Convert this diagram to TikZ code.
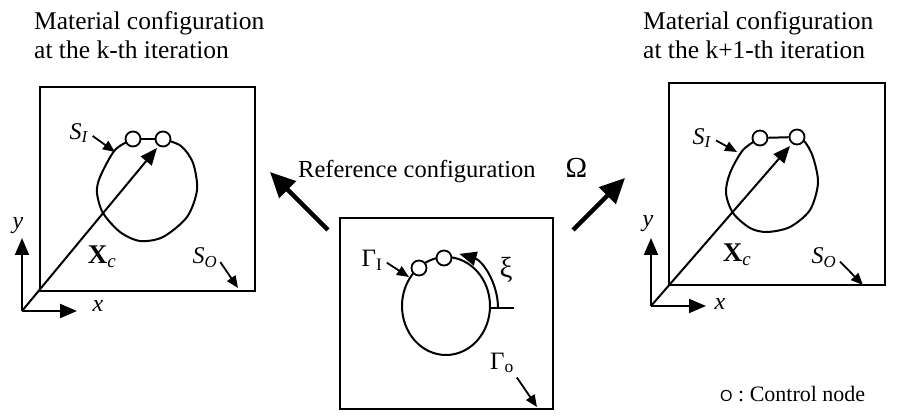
\documentclass[tikz,border=0pt]{standalone}
\usepackage{fontspec}
\setmainfont{Liberation Serif}
\setsansfont{Liberation Sans}
\usetikzlibrary{arrows.meta, positioning}

\begin{document}
\begin{tikzpicture}[x=1pt, y=-1pt]
   \fontsize{22pt}{28pt}\selectfont
    % --- STYLES ---
    \tikzstyle{config} = [rectangle, draw=black, line width=2.4pt, inner sep=0pt]
    \tikzstyle{ctrl} = [circle, draw=black, line width=1.8pt, fill=white, minimum size=15pt, inner sep=0pt]
    \tikzstyle{lbl} = [inner sep=0pt]
    \tikzstyle{title} = [inner sep=0pt, align=left, anchor=base west, font=\fontsize{25.5pt}{29pt}\selectfont]
    \tikzstyle{bound} = [line width=2pt]
    \tikzstyle{pointer} = [-{Triangle[length=12pt,width=10pt]}, line width=1.8pt, shorten <=5pt]
    \tikzstyle{axis} = [-{Triangle[length=17pt,width=14pt]}, line width=2pt]
    \tikzstyle{flow} = [-{Triangle[length=25pt,width=23pt]}, line width=4.5pt]

    \useasboundingbox (0,0) rectangle (898,419);

    % --- TITLES ---
    \node (ktitle) [title] at (34,59) {Material configuration\\at the k-th iteration};
    \node (ntitle) [title] at (643,59) {Material configuration\\at the k+1-th iteration};
    \node (reftext) [lbl, anchor=base west, font=\fontsize{24.5pt}{29pt}\selectfont] at (298,178) {Reference configuration\hspace{30pt}{\fontsize{29pt}{29pt}\selectfont Ω}};
    \node (legend) [lbl, anchor=base west] at (720,402) {{\sffamily\fontsize{16pt}{16pt}\selectfont O} : Control node};

    % --- BOXES ---
    \node (kbox)   [config, minimum width=215pt, minimum height=204pt] at (147.5,189) {};
    \node (refbox) [config, minimum width=213pt, minimum height=191pt] at (446.5,313.5) {};
    \node (nbox)   [config, minimum width=216pt, minimum height=202pt] at (777,184) {};

    % --- k-th iteration ---
    \draw[bound] plot[smooth] coordinates {(163,139) (181,146) (193,163) (197,190) (187,217) (163,237) (140,241) (120,232) (103,213) (97,193) (100,177) (115,150) (133,139)};
    \node (kn1) [ctrl] at (133,139) {};
    \node (kn2) [ctrl] at (163,139) {};
    \draw[bound] (kn1) -- (kn2);
    \coordinate (korig) at (22,311);
    \coordinate (kxaxis) at (77,311);
    \coordinate (kyaxis) at (22,238);
    \coordinate (kxtip) at (157,148);
    \draw[axis] (korig) -- (kxaxis);
    \draw[axis] (korig) -- (kyaxis);
    \draw[axis] (korig) -- (kxtip);
    \node (kx) [lbl, font=\fontsize{24pt}{24pt}\selectfont] at (98,306) {\textit{x}};
    \node (ky) [lbl, font=\fontsize{24pt}{24pt}\selectfont] at (18,226) {\textit{y}};
    \node (kXc) [lbl, font=\fontsize{27pt}{27pt}\selectfont] at (102,257) {\textbf{X}\textsubscript{\textit{c}}};
    \node (kSI) [lbl, font=\fontsize{24pt}{24pt}\selectfont] at (79,133) {\textit{S}\textsubscript{\textit{I}}};
    \node (kSO) [lbl, font=\fontsize{24pt}{24pt}\selectfont] at (205,258) {\textit{S}\textsubscript{\textit{O}}};
    \coordinate (kSIto) at (115,152);
    \coordinate (kSOto) at (238,288);
    \draw[pointer] (kSI.east) -- (kSIto);
    \draw[pointer] (kSO.east) -- (kSOto);

    % --- reference configuration ---
    \draw[bound] (446,306) ellipse [x radius=44, y radius=49];
    \draw[bound] (490,308) -- (514,308);
    \draw[axis] (498,308) arc[start angle=0, end angle=-75, x radius=52, y radius=56];
    \node (rn1) [ctrl] at (419,268) {};
    \node (rn2) [ctrl] at (444,258) {};
    \node (GI) [lbl, font=\fontsize{25pt}{25pt}\selectfont] at (372,260) {Γ\textsubscript{I}};
    \node (GO) [lbl, font=\fontsize{25pt}{25pt}\selectfont] at (502,363) {Γ\textsubscript{o}};
    \node (xi) [lbl, font=\fontsize{29pt}{29pt}\selectfont] at (506,270) {ξ};
    \coordinate (GIto) at (409,277);
    \coordinate (GOto) at (537,407);
    \draw[pointer] (GI.east) -- (GIto);
    \draw[pointer] (GO.south east) -- (GOto);

    % --- k+1-th iteration ---
    \draw[bound] plot[smooth] coordinates {(797,137) (805,142) (813,157) (818,183) (810,210) (790,227) (767,232) (750,228) (733,213) (726,193) (730,173) (743,150) (760,138)};
    \node (nn1) [ctrl] at (760,138) {};
    \node (nn2) [ctrl] at (797,137) {};
    \draw[bound] (nn1) -- (nn2);
    \coordinate (norig) at (651,306);
    \coordinate (nxaxis) at (706,306);
    \coordinate (nyaxis) at (651,238);
    \coordinate (nxtip) at (790,146);
    \draw[axis] (norig) -- (nxaxis);
    \draw[axis] (norig) -- (nyaxis);
    \draw[axis] (norig) -- (nxtip);
    \node (nx) [lbl, font=\fontsize{24pt}{24pt}\selectfont] at (720,304) {\textit{x}};
    \node (ny) [lbl, font=\fontsize{24pt}{24pt}\selectfont] at (648,224) {\textit{y}};
    \node (nXc) [lbl, font=\fontsize{27pt}{27pt}\selectfont] at (737,255) {\textbf{X}\textsubscript{\textit{c}}};
    \node (nSI) [lbl, font=\fontsize{24pt}{24pt}\selectfont] at (702,138) {\textit{S}\textsubscript{\textit{I}}};
    \node (nSO) [lbl, font=\fontsize{24pt}{24pt}\selectfont] at (824,258) {\textit{S}\textsubscript{\textit{O}}};
    \coordinate (nSIto) at (737,152);
    \coordinate (nSOto) at (863,285);
    \draw[pointer] (nSI.east) -- (nSIto);
    \draw[pointer] (nSO.east) -- (nSOto);

    % --- ARROWS to the material configurations ---
    \coordinate (ltail) at (328,230);
    \coordinate (lhead) at (270,172);
    \coordinate (rtail) at (573,230);
    \coordinate (rhead) at (625,178);
    \draw[flow] (ltail) -- (lhead);
    \draw[flow] (rtail) -- (rhead);

  \end{tikzpicture}
\end{document}
